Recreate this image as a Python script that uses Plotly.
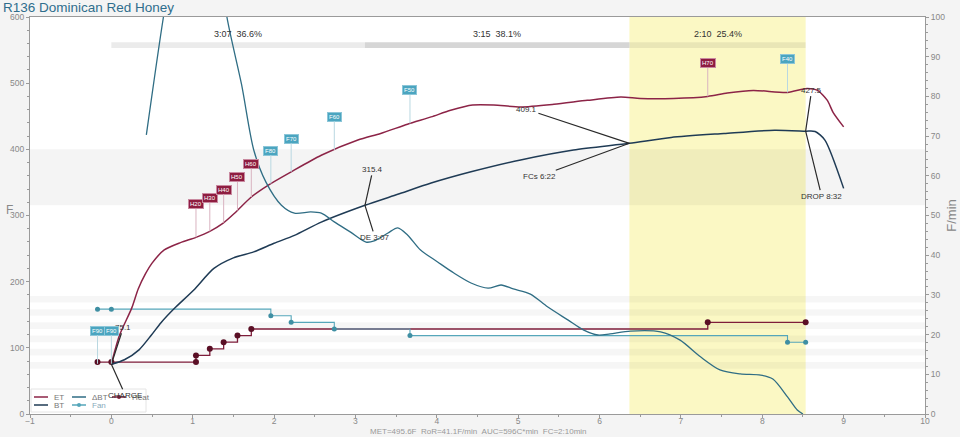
import numpy as np
import plotly.graph_objects as go

TITLE = "R136 Dominican Red Honey"

# ---------------- data ----------------
et_t = [0, 0.10, 0.25, 0.33, 0.42, 0.50, 0.65, 0.85, 1.04, 1.21, 1.37, 1.51, 1.72, 1.93, 2.21, 2.58,
        3.03, 3.31, 3.64, 3.93, 4.17, 4.44, 4.70, 5.03, 5.44, 5.85, 6.26, 6.50, 6.91, 7.33, 7.57,
        7.89, 8.31, 8.55, 8.68, 8.80, 8.87, 9.0]
et_v = [76, 119, 160, 189, 212, 228, 248, 259, 267, 276, 288, 303, 328, 346, 366, 391,
        414, 424, 438, 449, 459, 467, 467, 464, 468, 474, 479, 477, 477, 480, 485,
        489, 486, 492, 489, 474, 456, 434]

bt_t = [0, 0.16, 0.34, 0.49, 0.61, 0.77, 1.01, 1.26, 1.50, 1.75, 2.0, 2.25, 2.58, 3.117, 3.52,
        3.93, 4.42, 5.03, 5.68, 6.367, 6.88, 7.53, 8.15, 8.533, 8.65, 8.77, 9.0]
bt_v = [75.1, 82, 97, 119, 138, 159, 187, 220, 236, 245, 258, 270, 290, 315.4, 332,
        349, 366, 384, 399, 409.1, 418, 424, 429, 427.5, 427, 414, 341]

ror_t = [0.43, 0.64, 0.85, 1.05, 1.25, 1.42, 1.60, 1.75, 1.90, 2.09, 2.25, 2.45, 2.58, 2.74, 2.94,
         3.13, 3.23, 3.40, 3.52, 3.64, 3.80, 4.01, 4.21, 4.42, 4.63, 4.79, 4.94, 5.15, 5.36, 5.61,
         5.80, 5.98, 6.13, 6.38, 6.75, 6.99, 7.24, 7.48, 7.73, 7.98, 8.13, 8.31, 8.43, 8.50]
ror_v = [70.3, 100, 125, 135, 125, 100, 83, 66.5, 58.4, 52.6, 50.6, 50.9, 50.6, 48.4, 45.8,
         43.3, 43.6, 45.6, 46.9, 45.1, 41.3, 38.3, 35.5, 33.0, 31.7, 32.5, 31.5, 30.2, 27.0, 23.7,
         21.2, 19.9, 20.2, 20.9, 20.7, 18.6, 14.4, 11.1, 10.1, 9.8, 8.8, 4.3, 1.0, 0]

heat_t = [-0.17, 0, 1.04, 1.04, 1.21, 1.38, 1.55, 1.72, 7.33, 8.533]
heat_v = [10, 10, 10, 20, 30, 40, 50, 60, 70, 70]
fan_t = [-0.17, 0, 1.96, 2.21, 2.74, 3.67, 8.31, 8.533]
fan_v = [90, 90, 80, 70, 60, 50, 40, 40]

heat_flag_t = [1.04, 1.21, 1.38, 1.55, 1.72, 7.33]
heat_flag_lbl = ["H20", "H30", "H40", "H50", "H60", "H70"]
fan_flag_t = [-0.17, 0, 1.96, 2.21, 2.74, 3.67, 8.31]
fan_flag_lbl = ["F90", "F90", "F80", "F70", "F60", "F50", "F40"]

phase_edges = [0, 3.117, 6.367, 8.533]
phase_lbl = ["3:07  36.6%", "3:15  38.1%", "2:10  25.4%"]

ev_t = [0, 3.117, 6.367, 8.533]
ev_bt = [75.1, 315.4, 409.1, 427.5]
ev_name = ["CHARGE", "DE 3:07", "FCs 6:22", "DROP 8:32"]

stats_items = ["MET=495.6F", "RoR=41.1F/min", "AUC=596C*min", "FC=2:10min"]

EVENT_OFFSET = 68.5  # event value -> F mapping

# ---------------- styling helpers ----------------
C_ET = "#8c2447"
C_BT = "#1f3b55"
C_ROR = "#2f6d84"
C_FAN = "#55a6ba"
C_HEAT = "#7e1d3a"
FONT = "Liberation Sans, Arial, sans-serif"
L, R, T, B = 30, 35, 17, 23
W, H = 960, 437
PW, PH = W - L - R, H - T - B


def px(x):
    return (x - L) / PW


def py(y):
    return (H - B - y) / PH


fig = go.Figure()

fig.add_trace(go.Scatter(x=heat_t, y=[v + EVENT_OFFSET for v in heat_v], mode="lines+markers",
                         line=dict(color=C_HEAT, width=1.3, shape="hv"),
                         marker=dict(color="#5a0f25", size=6), name="Heat", hoverinfo="skip"))
fig.add_trace(go.Scatter(x=fan_t, y=[v + EVENT_OFFSET for v in fan_v], mode="lines+markers",
                         line=dict(color=C_FAN, width=1.1, shape="hv"),
                         marker=dict(color="#3f8fa3", size=5), name="Fan", hoverinfo="skip"))
fig.add_trace(go.Scatter(x=et_t, y=et_v, mode="lines", line=dict(color=C_ET, width=1.5, shape="spline", smoothing=0.7),
                         name="ET"))
fig.add_trace(go.Scatter(x=bt_t, y=bt_v, mode="lines", line=dict(color=C_BT, width=1.5, shape="spline", smoothing=0.7),
                         name="BT"))
fig.add_trace(go.Scatter(x=ror_t, y=ror_v, mode="lines", yaxis="y2",
                         line=dict(color=C_ROR, width=1.3, shape="spline", smoothing=0.8), name="ΔBT"))

shapes = []
# yellow development area
shapes.append(dict(type="rect", xref="x", yref="paper", x0=phase_edges[2], x1=phase_edges[3], y0=0, y1=1,
                   fillcolor="#fbf8c4", line=dict(width=0), layer="below"))
# gray band
shapes.append(dict(type="rect", xref="paper", yref="y", x0=0, x1=1, y0=ev_bt[1], y1=400,
                   fillcolor="rgba(0,0,0,0.045)", line=dict(width=0), layer="below"))
# event stripes
for v in range(0, 110, 20):
    shapes.append(dict(type="rect", xref="paper", yref="y", x0=0, x1=1, y0=EVENT_OFFSET + v, y1=EVENT_OFFSET + v + 10,
                       fillcolor="rgba(0,0,0,0.035)", line=dict(width=0), layer="below"))
# phase bars
bar_cols = ["#ebebeb", "#d6d6d6", "rgba(0,0,0,0.07)"]
for i in range(3):
    shapes.append(dict(type="rect", xref="x", yref="y", x0=phase_edges[i], x1=phase_edges[i + 1], y0=553, y1=562,
                       fillcolor=bar_cols[i], line=dict(width=0), layer="below"))

# manual legend
shapes.append(dict(type="rect", xref="paper", yref="paper", x0=px(31), x1=px(146), y0=py(412), y1=py(389),
                   fillcolor="white", line=dict(color="#e4e4e4", width=1)))
leg = [("ET", C_ET, 34, 397, False), ("BT", C_BT, 34, 405, False), ("ΔBT", C_ROR, 72, 397, False),
       ("Fan", C_FAN, 72, 405, True), ("Heat", C_HEAT, 112, 397, True)]
annotations = []
for name, col, x0, y0, dot in leg:
    shapes.append(dict(type="line", xref="paper", yref="paper", x0=px(x0), x1=px(x0 + 14), y0=py(y0), y1=py(y0),
                       line=dict(color=col, width=1.5)))
    if dot:
        shapes.append(dict(type="circle", xref="paper", yref="paper", x0=px(x0 + 5), x1=px(x0 + 9),
                           y0=py(y0 + 2), y1=py(y0 - 2), fillcolor=col, line=dict(color=col, width=0)))
    annotations.append(dict(xref="paper", yref="paper", x=px(x0 + 18), y=py(y0), text=name, showarrow=False,
                            xanchor="left", yanchor="middle", font=dict(size=8, color="#777" if name != "Fan" else "#8ab")))

# title & axis labels
annotations.append(dict(xref="paper", yref="paper", x=px(1), y=py(7), text=TITLE, showarrow=False,
                        xanchor="left", yanchor="middle", font=dict(size=13.5, color="#2f6e8d")))
annotations.append(dict(xref="paper", yref="paper", x=px(4), y=py(210), text="F", showarrow=False,
                        font=dict(size=12, color="#888")))
annotations.append(dict(xref="paper", yref="paper", x=px(478), y=py(431.5),
                        text="&nbsp;&nbsp;".join(stats_items), showarrow=False,
                        xanchor="center", yanchor="middle", font=dict(size=8, color="#999")))

# phase labels
for i in range(3):
    annotations.append(dict(x=(phase_edges[i] + phase_edges[i + 1]) / 2, y=575, text=phase_lbl[i].replace("  ", "&nbsp;&nbsp;"),
                            showarrow=False, font=dict(size=9, color="#333")))

# event annotations (value + name)
val_off = [(12, -37), (8, -36), (-103, -34), (6, -41)]
name_off = [(14, 31), (10, 32), (-90, 33), (16, 65)]
for i in range(4):
    annotations.append(dict(x=ev_t[i], y=ev_bt[i], text=f"{ev_bt[i]:.1f}", showarrow=True, arrowhead=0,
                            arrowwidth=1.2, arrowcolor="#2a2a2a", ax=val_off[i][0], ay=val_off[i][1],
                            font=dict(size=8, color="#333")))
    annotations.append(dict(x=ev_t[i], y=ev_bt[i], text=ev_name[i], showarrow=True, arrowhead=0,
                            arrowwidth=1.2, arrowcolor="#2a2a2a", ax=name_off[i][0], ay=name_off[i][1],
                            font=dict(size=8, color="#333")))

# flags
for t, lbl in zip(heat_flag_t, heat_flag_lbl):
    annotations.append(dict(x=t, y=float(np.interp(t, et_t, et_v)), text=lbl, showarrow=True, arrowhead=0,
                            arrowwidth=1, arrowcolor="#d9b3c0", ax=0, ay=-33, bgcolor="#8e1d40",
                            bordercolor="#c98aa0", borderwidth=1, borderpad=1,
                            font=dict(size=6, color="white")))
for t, lbl in zip(fan_flag_t, fan_flag_lbl):
    annotations.append(dict(x=t, y=float(np.interp(t, et_t, et_v)), text=lbl, showarrow=True, arrowhead=0,
                            arrowwidth=1, arrowcolor="#b9d8e1", ax=0, ay=-33, bgcolor="#4ba5c0",
                            bordercolor="#8cc6d8", borderwidth=1, borderpad=1,
                            font=dict(size=6, color="white")))

axis_common = dict(showline=True, linecolor="#9a9a9a", linewidth=1, ticks="outside", ticklen=3,
                   tickcolor="#9a9a9a", tickfont=dict(size=8.5, color="#888", family=FONT), zeroline=False,
                   automargin=False, showgrid=False)

fig.update_layout(
    width=W, height=H, margin=dict(l=L, r=R, t=T, b=B, autoexpand=False),
    paper_bgcolor="#f4f4f4", plot_bgcolor="#ffffff",
    font=dict(family=FONT), showlegend=False,
    xaxis=dict(range=[-1, 10], dtick=1, mirror=True, ticklabelstandoff=-4,
               minor=dict(dtick=0.5, ticks="outside", ticklen=2, tickcolor="#9a9a9a"), **axis_common),
    yaxis=dict(range=[0, 600], dtick=100,
               minor=dict(dtick=20, ticks="outside", ticklen=2, tickcolor="#9a9a9a"), **axis_common),
    yaxis2=dict(range=[0, 100], dtick=10, overlaying="y", side="right",
                title=dict(text="F/min", font=dict(size=13, color="#888"), standoff=2),
                minor=dict(dtick=2, ticks="outside", ticklen=2, tickcolor="#9a9a9a"), **axis_common),
    shapes=shapes, annotations=annotations,
)

fig.write_html("out.html", config={"displayModeBar": False},
               post_script="document.body.style.margin='0';document.body.style.overflow='hidden';")
